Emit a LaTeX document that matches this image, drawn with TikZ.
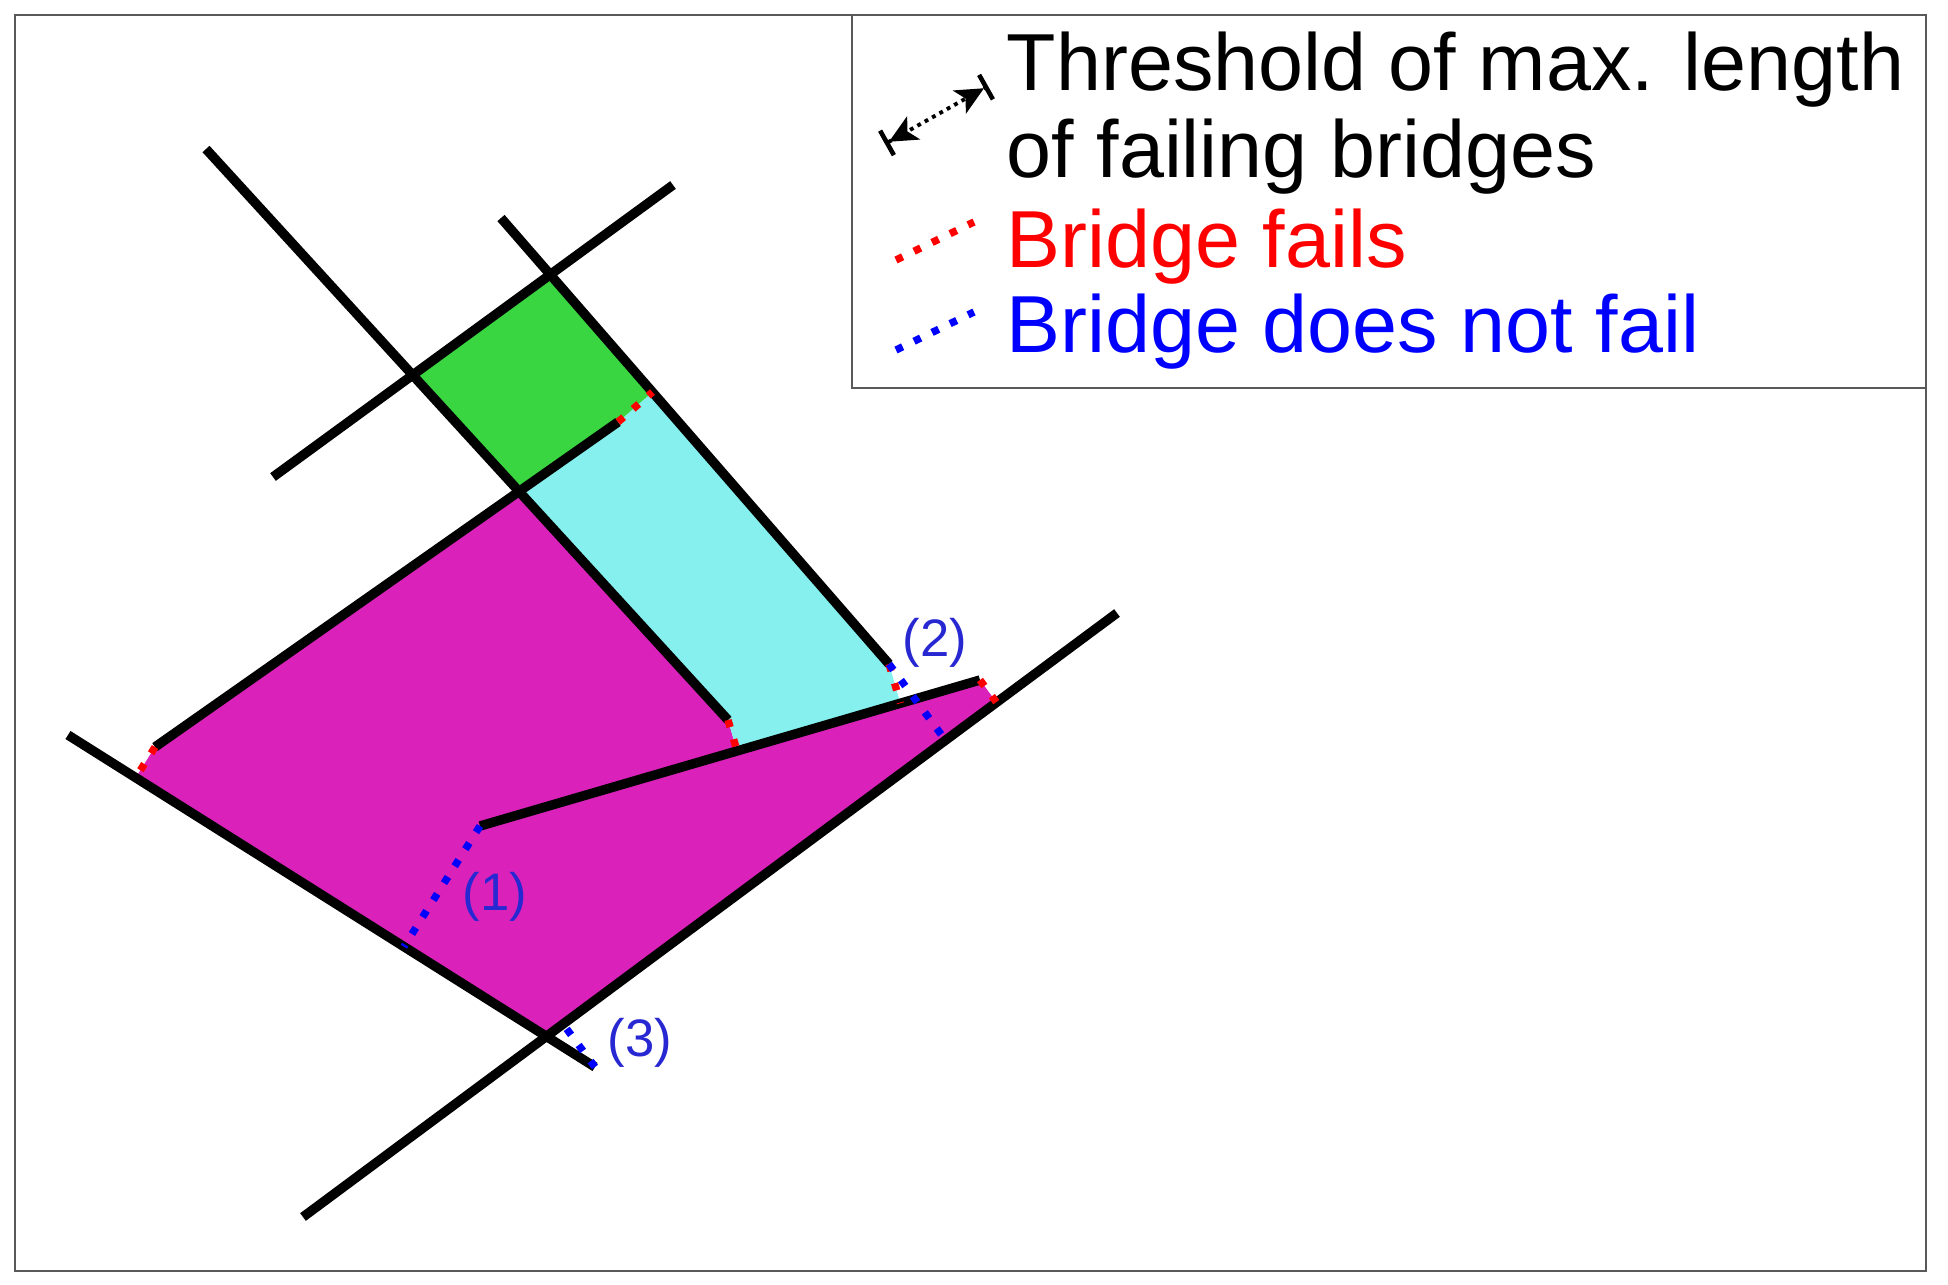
\documentclass[tikz,border=0pt]{standalone}
\usepackage{fontspec}
\setmainfont{Liberation Sans}
\setsansfont{Liberation Sans}
\usetikzlibrary{
  arrows.meta,
  calc,         % Projections $(a)!(p)!(b)$
}
\definecolor{zonegreen}{RGB}{58,214,65}
\definecolor{zonecyan}{RGB}{134,240,238}
\definecolor{zonemagenta}{RGB}{218,34,186}
\definecolor{failred}{RGB}{255,0,0}
\definecolor{holdblue}{RGB}{0,0,255}
\definecolor{labelblue}{RGB}{40,40,210}
\def\mywall{2.7pt}
\def\mydot{2.1pt}
\tikzset{
  font=\sffamily,
  wall/.style={
    line width=\mywall
  },
  my bridge/.style={
    line width=\mydot,
    dash pattern=on \mydot off 3.6pt
  },
  fails/.style={
    my bridge,
    draw=failred
  },
  holds/.style={
    my bridge,
    draw=holdblue
  },
  threshold/.style={
    line width=1.1pt,
    dash pattern=on 1.1pt off 1.3pt,
    {Bar[width=8pt,line width=1.3pt]Stealth[length=8pt,width=7.5pt,inset=2pt]}-{Stealth[length=8pt,width=7.5pt,inset=2pt]Bar[width=8pt,line width=1.3pt]}
  },
  frame/.style={
    draw=black!65,
    line width=0.7pt
  },
  legend text/.style={
    anchor=base west,
    inner sep=0mm,
    font=\fontsize{23}{28}\selectfont
  },
  case label/.style={
    inner sep=0mm,
    text=labelblue,
    font=\fontsize{15}{18}\selectfont
  }
}

\begin{document}
\begin{tikzpicture}[x=0.01cm,y=-0.01cm]
\useasboundingbox (0,0) rectangle (1948,1284);
% end points of the walls
\coordinate (A1) at (206,149);  \coordinate (A2) at (728,720);
\coordinate (B1) at (501,218);  \coordinate (B2) at (889,664);
\coordinate (C1) at (273,477);  \coordinate (C2) at (673,185);
\coordinate (D1) at (155,747);  \coordinate (D2) at (618,422);
\coordinate (E1) at (68,735);   \coordinate (E2) at (595,1067);
\coordinate (F1) at (303,1217); \coordinate (F2) at (1117,613);
\coordinate (G1) at (480,826);  \coordinate (G2) at (980,680);
% crossings
\coordinate (AC) at (intersection of A1--A2 and C1--C2);
\coordinate (BC) at (intersection of B1--B2 and C1--C2);
\coordinate (AD) at (intersection of A1--A2 and D1--D2);
\coordinate (EF) at (intersection of E1--E2 and F1--F2);
% feet of the bridges
\coordinate (pDE) at ($(E1)!(D1)!(E2)$);
\coordinate (pDB) at ($(B1)!(D2)!(B2)$);
\coordinate (pAG) at ($(G1)!(A2)!(G2)$);
\coordinate (pBG) at ($(G1)!(B2)!(G2)$);
\coordinate (pGF) at ($(F1)!(G2)!(F2)$);
\coordinate (pGE) at ($(E1)!(G1)!(E2)$);
\coordinate (pBF) at ($(F1)!(B2)!(F2)$);
\coordinate (pEF) at ($(F1)!(E2)!(F2)$);

\fill[zonemagenta] (D1) -- (AD) -- (A2) -- (pAG) -- (G2) -- (pGF) -- (EF) -- (pDE) -- cycle;
\fill[zonecyan] (AD) -- (D2) -- (pDB) -- (B2) -- (pBG) -- (pAG) -- (A2) -- cycle;
\fill[zonegreen] (AC) -- (BC) -- (pDB) -- (D2) -- (AD) -- cycle;

\foreach \w in {A,B,C,D,E,F,G}
  \draw[wall] (\w1) -- (\w2);

\draw[fails] (D1) -- (pDE);
\draw[fails] (D2) -- (pDB);
\draw[fails] (A2) -- (pAG);
\draw[fails] (B2) -- (pBG);
\draw[fails] (G2) -- (pGF);
\draw[holds] (G1) -- (pGE);
\draw[holds] (B2) -- (pBF);
\draw[holds] (E2) -- (pEF);

\node[case label] (case1) at (495,897) {(1)};
\node[case label] (case2) at (935,643) {(2)};
\node[case label] (case3) at (640,1043) {(3)};

% legend
\draw[frame] (15,15) rectangle (1926,1271);
\draw[frame] (852,15) rectangle (1926,388);
\coordinate (thrA) at (885,144);  \coordinate (thrB) at (988,86);
\coordinate (failA) at (896,260); \coordinate (failB) at (974,222);
\coordinate (holdA) at (896,350); \coordinate (holdB) at (974,312);
\draw[threshold] (thrA) -- (thrB);
\draw[fails] (failA) -- (failB);
\draw[holds] (holdA) -- (holdB);
\node[legend text] (thr1) at (1006,90) {Threshold of max. length};
\node[legend text] (thr2) at (1006,177) {of failing bridges};
\node[legend text, text=failred] (fail) at (1006,267) {Bridge fails};
\node[legend text, text=holdblue] (hold) at (1006,352) {Bridge does not fail};
\end{tikzpicture}
\end{document}
